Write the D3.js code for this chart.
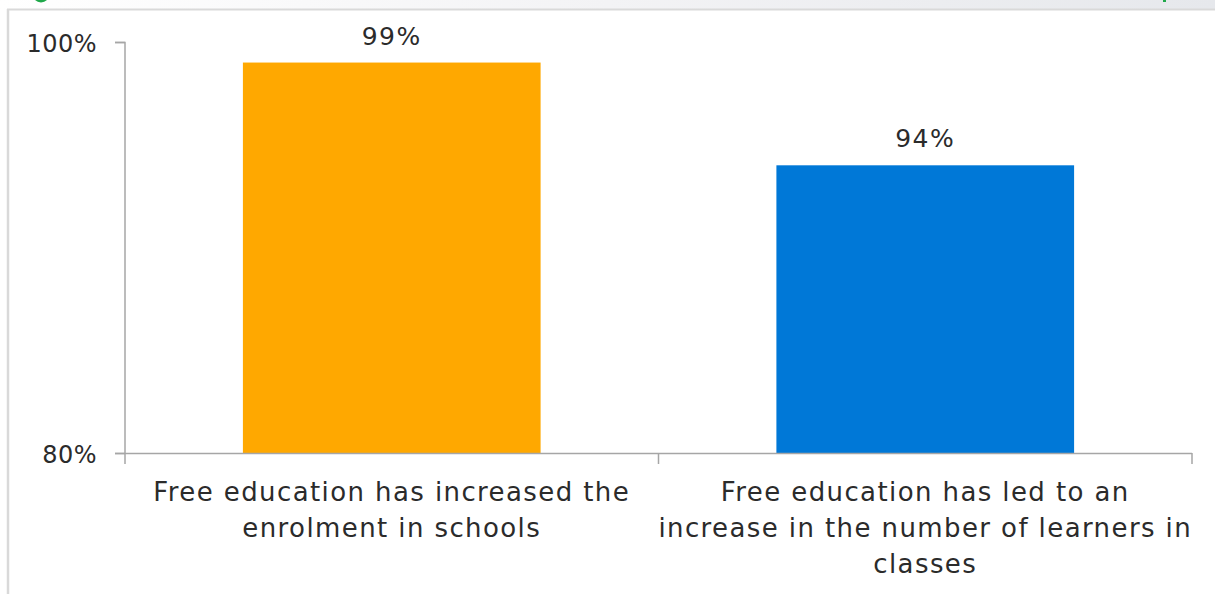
<!DOCTYPE html>
<html><head><meta charset="utf-8">
<script src="https://cdn.jsdelivr.net/npm/d3@7"></script>
<style>
html,body{margin:0;padding:0;background:#fff;overflow:hidden}
text{font-family:"DejaVu Sans",sans-serif;fill:#2b2b2b}
</style></head>
<body><svg id="c" width="1215" height="594"></svg>
<script>
const categories = ["enrolment", "learners"];
const categoryLines = [
  ["Free education has increased the", "enrolment in schools"],
  ["Free education has led to an", "increase in the number of learners in", "classes"]
];
const values = [99, 94];
const valueLabels = ["99%", "94%"];
const barColors = ["#FFA800", "#0078D7"];
const yTicks = [80, 100];
const yTickLabels = ["80%", "100%"];

const svg = d3.select("#c");
// decorative header strip
const defs = svg.append("defs");
const g0 = defs.append("linearGradient").attr("id","hdr").attr("x1","0").attr("x2","1");
g0.append("stop").attr("offset","0").attr("stop-color","#ffffff");
g0.append("stop").attr("offset","0.5").attr("stop-color","#f3f3f5");
g0.append("stop").attr("offset","1").attr("stop-color","#e6e8ec");
svg.append("rect").attr("x",0).attr("y",0).attr("width",1215).attr("height",9).attr("fill","url(#hdr)");
svg.append("circle").attr("cx",41).attr("cy",-6).attr("r",8.5).attr("fill","#1fa84a");
svg.append("rect").attr("x",1163).attr("y",0).attr("width",3).attr("height",2).attr("fill","#1fa84a");
svg.append("line").attr("x1",7).attr("x2",1215).attr("y1",9.5).attr("y2",9.5).attr("stroke","#d9d9d9").attr("stroke-width",2);
svg.append("line").attr("x1",8).attr("x2",8).attr("y1",9).attr("y2",594).attr("stroke","#d9d9d9").attr("stroke-width",2.5);

const x = d3.scaleBand().domain(categories).range([125,1192]).paddingInner(0.442).paddingOuter(0.221);
const y = d3.scaleLinear().domain([80,100]).range([453,42]);

// bars
svg.selectAll("rect.bar").data(values).join("rect").attr("class","bar")
  .attr("x",(d,i)=>x(categories[i])).attr("width",x.bandwidth())
  .attr("y",d=>y(d)).attr("height",d=>y(80)-y(d))
  .attr("fill",(d,i)=>barColors[i]);

// value labels
svg.selectAll("text.val").data(values).join("text").attr("class","val")
  .attr("x",(d,i)=>x(categories[i])+x.bandwidth()/2).attr("y",d=>y(d)-18)
  .attr("text-anchor","middle").attr("font-size",25).attr("letter-spacing",1.5).text((d,i)=>valueLabels[i]);

// y axis
const axisColor = "#a6a6a6";
const yAxis = svg.append("g").attr("transform","translate(125,0)")
  .call(d3.axisLeft(y).tickValues(yTicks).tickSize(10).tickPadding(18).tickFormat((d,i)=>yTickLabels[i]));
yAxis.select(".domain").attr("stroke",axisColor).attr("stroke-width",1.5).attr("d","M-10,42.5H0V453");
yAxis.selectAll(".tick line").attr("stroke",axisColor).attr("stroke-width",1.5);
yAxis.selectAll(".tick text").attr("font-size",24).attr("font-family","DejaVu Sans").attr("fill","#2b2b2b").attr("dy","0.4em").attr("letter-spacing",0.5);

// x axis
const xg = svg.append("g");
xg.append("line").attr("x1",115).attr("x2",1192).attr("y1",453.5).attr("y2",453.5).attr("stroke",axisColor).attr("stroke-width",1.5);
const boundaries = [125, (x(categories[0])+x.bandwidth()+x(categories[1]))/2, 1192];
xg.selectAll("line.tk").data(boundaries).join("line").attr("class","tk")
  .attr("x1",d=>d).attr("x2",d=>d).attr("y1",453).attr("y2",464).attr("stroke",axisColor).attr("stroke-width",1.5);

// category labels
categories.forEach((c,i)=>{
  const cx = x(c)+x.bandwidth()/2;
  const t = svg.append("text").attr("text-anchor","middle").attr("font-size",26).attr("letter-spacing",1.4)
    .attr("x",cx).attr("y",501);
  categoryLines[i].forEach((ln,j)=>{
    t.append("tspan").attr("x",cx).attr("y",501+j*36).text(ln);
  });
});
</script></body></html>
